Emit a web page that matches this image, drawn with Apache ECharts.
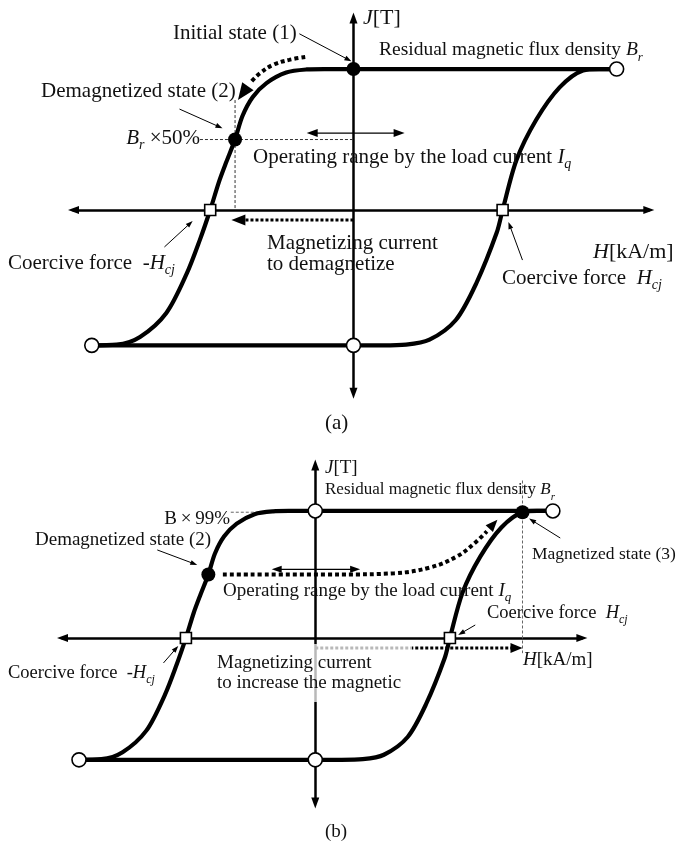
<!DOCTYPE html>
<html>
<head>
<meta charset="utf-8">
<script src="https://cdn.jsdelivr.net/npm/echarts@6/dist/echarts.min.js"></script>
<style>
  html, body { margin: 0; padding: 0; background: #fff; }
  #chart { width: 678px; height: 841px; }
</style>
</head>
<body>
<div id="chart"></div>
<script>
// J–H hysteresis loop of a permanent magnet, normalised: H in units of Hcj, J in units of Br.
const demagBranch = [[1.80, 1.00], [0.00, 1.00], [-0.20, 1.00], [-0.32, 0.997], [-0.46, 0.975],
  [-0.595, 0.90], [-0.69, 0.80], [-0.76, 0.665], [-0.81, 0.50], [-0.87, 0.34], [-0.92, 0.20],
  [-0.98, 0.00], [-1.05, -0.21], [-1.14, -0.45], [-1.28, -0.73], [-1.46, -0.90], [-1.62, -0.955], [-1.79, -0.96]];
const magBranch = [[-1.79, -0.96], [0.20, -0.96], [0.36, -0.955], [0.52, -0.92], [0.70, -0.78],
  [0.84, -0.52], [0.98, -0.16], [1.02, 0.00], [1.115, 0.355], [1.25, 0.64], [1.41, 0.87],
  [1.57, 0.99], [1.68, 1.00], [1.80, 1.00]];
const coercivePoints = [[-0.98, 0], [1.02, 0]];

// (a) demagnetisation from the initial state
const openPointsA = [[-1.79, -0.96], [1.80, 1.00], [0, -0.96]];
const solidPointsA = [[0, 1.00], [-0.81, 0.50]];
const guidesA = [[[-1.05, 0.50], [0, 0.50]], [[-0.81, 0.78], [-0.81, 0]]];
const sweepPathA = [[-0.33, 1.085], [-0.44, 1.065], [-0.55, 1.03], [-0.64, 0.97], [-0.70, 0.91]];
const sweepTipA = [-0.79, 0.78];
const currentArrowA = [[[0, -0.07], [-0.835, -0.07]]];
const loadRangeA = [[[-0.32, 0.546], [0.35, 0.546]]];
const pointersA = [
  [[-0.37, 1.25], [-0.014, 1.055]],
  [[-1.19, 0.716], [-0.896, 0.58]],
  [[-1.293, -0.262], [-1.10, -0.078]],
  [[1.156, -0.355], [1.06, -0.085]]
];

// (b) remagnetisation back to 99 % of Br
const openPointsB = [[-1.79, -0.96], [1.80, 1.00], [0, -0.96], [0, 1.00]];
const solidPointsB = [[-0.81, 0.50], [1.57, 0.99]];
const guidesB = [[[-0.64, 0.99], [1.57, 0.99]], [[1.57, 1.24], [1.57, -0.12]]];
const sweepPathB = [[-0.70, 0.50], [0.20, 0.50], [0.60, 0.51], [0.87, 0.555], [1.07, 0.64], [1.20, 0.74], [1.30, 0.84]];
const sweepTipB = [1.38, 0.93];
const currentArrowB = [[[0, -0.08], [1.57, -0.08]]];
const loadRangeB = [[[-0.33, 0.54], [0.34, 0.54]]];
const pointersB = [
  [[-1.197, 0.693], [-0.894, 0.575]],
  [[1.856, 0.787], [1.62, 0.94]],
  [[1.212, 0.102], [1.083, 0.024]],
  [[-1.15, -0.197], [-1.038, -0.063]]
];

const X_MIN = -1.915, X_MAX = 2.02, Y_MIN = -1.30, Y_MAX = 1.362;
const SERIF = "'Liberation Serif', 'Times New Roman', serif";
const INK = '#111';

function axisPair(i) {
  const line = {
    onZero: true,
    symbol: ['triangle', 'triangle'],
    symbolSize: [8, 11],
    lineStyle: { color: '#000', width: 2.5 }
  };
  const common = {
    type: 'value', gridIndex: i, axisLine: line,
    axisTick: { show: false }, axisLabel: { show: false }, splitLine: { show: false }
  };
  return [
    Object.assign({ min: X_MIN, max: X_MAX }, common),
    Object.assign({ min: Y_MIN, max: Y_MAX }, common)
  ];
}

function curve(i, data, style, extra) {
  return Object.assign({
    type: 'line', xAxisIndex: i, yAxisIndex: i, data: data,
    symbol: 'none', showSymbol: false, silent: true, animation: false,
    smooth: 0.3, z: 3,
    lineStyle: style
  }, extra || {});
}

function dots(i, data, kind) {
  const styles = {
    solid: { symbol: 'circle', size: 14, item: { color: '#000', opacity: 1 } },
    open: { symbol: 'circle', size: 14, item: { color: '#fff', borderColor: '#000', borderWidth: 1.6, opacity: 1 } },
    square: { symbol: 'rect', size: 11, item: { color: '#fff', borderColor: '#000', borderWidth: 1.6, opacity: 1 } }
  }[kind];
  return {
    type: 'scatter', xAxisIndex: i, yAxisIndex: i, data: data, silent: true,
    symbol: styles.symbol, symbolSize: styles.size, itemStyle: styles.item, z: 8,
    emphasis: { disabled: true }
  };
}

// straight segments, optionally with filled arrowheads drawn in pixel space
function arrows(i, segs, o) {
  return {
    type: 'custom', xAxisIndex: i, yAxisIndex: i, silent: true, clip: false, z: o.z || 6,
    data: segs.map(s => [s[0][0], s[0][1], s[1][0], s[1][1]]),
    renderItem: function (params, api) {
      const a = api.coord([api.value(0), api.value(1)]);
      const b = api.coord([api.value(2), api.value(3)]);
      const dx = b[0] - a[0], dy = b[1] - a[1];
      const d = Math.hypot(dx, dy) || 1, ux = dx / d, uy = dy / d;
      const head = function (tail, tip) {
        const vx = tip[0] - tail[0], vy = tip[1] - tail[1];
        const n = Math.hypot(vx, vy) || 1, px = vx / n, py = vy / n;
        const bx = tip[0] - px * o.len, by = tip[1] - py * o.len;
        return {
          type: 'polygon',
          shape: { points: [tip, [bx - py * o.wid / 2, by + px * o.wid / 2], [bx + py * o.wid / 2, by - px * o.wid / 2]] },
          style: { fill: o.color || '#000' }
        };
      };
      const kids = [];
      if (o.line !== false) {
        const s = o.start ? [a[0] + ux * o.len * 0.7, a[1] + uy * o.len * 0.7] : a;
        const e = o.end ? [b[0] - ux * o.len * 0.7, b[1] - uy * o.len * 0.7] : b;
        kids.push({
          type: 'line', shape: { x1: s[0], y1: s[1], x2: e[0], y2: e[1] },
          style: { stroke: o.color || '#000', lineWidth: o.width || 1, lineDash: o.dash || null, lineCap: 'butt' }
        });
      }
      if (o.end) kids.push(head(a, b));
      if (o.start) kids.push(head(b, a));
      return { type: 'group', children: kids };
    }
  };
}

function rich(size) {
  const L = size + 8, off = 0.42 * size;
  const base = { fontFamily: SERIF, fontSize: size, lineHeight: L, verticalAlign: 'middle', fill: INK };
  return {
    t: base,
    i: Object.assign({}, base, { fontStyle: 'italic' }),
    s: Object.assign({}, base, {
      fontSize: Math.round(size * 0.66), fontStyle: 'italic',
      lineHeight: L - 2 * off, verticalAlign: 'bottom'
    })
  };
}

function text(x, y, str, size, align) {
  return {
    type: 'text', x: x, y: y, z: 100, silent: true,
    style: {
      text: str, rich: rich(size), fill: INK, fontFamily: SERIF, fontSize: size,
      align: align || 'left', verticalAlign: 'middle'
    }
  };
}

const axA = axisPair(0), axB = axisPair(1);
const loopStyle = { color: '#000', width: 4.2, cap: 'round', join: 'round' };
const sweepStyle = { color: '#000', width: 4, type: [4, 3], cap: 'butt' };
const guideA = { color: '#333', width: 1, type: [3, 2] };
const guideB = { color: '#666', width: 1, type: [3, 2] };

const series = [
  // panel (a)
  curve(0, demagBranch, loopStyle),
  curve(0, magBranch, loopStyle),
  ...guidesA.map(g => curve(0, g, guideA, { smooth: false, z: 2 })),
  curve(0, sweepPathA, sweepStyle, { smooth: 0.4, z: 5 }),
  arrows(0, [[sweepPathA[sweepPathA.length - 1], sweepTipA]], { line: false, end: true, len: 17, wid: 14 }),
  arrows(0, currentArrowA, { width: 3, dash: [3, 2], end: true, len: 14, wid: 11 }),
  arrows(0, loadRangeA, { width: 1.3, start: true, end: true, len: 11, wid: 8 }),
  arrows(0, pointersA, { width: 1, end: true, len: 7, wid: 5 }),
  dots(0, coercivePoints, 'square'),
  dots(0, openPointsA, 'open'),
  dots(0, solidPointsA, 'solid'),
  // panel (b)
  curve(1, demagBranch, loopStyle),
  curve(1, magBranch, loopStyle),
  ...guidesB.map(g => curve(1, g, guideB, { smooth: false, z: 2 })),
  curve(1, sweepPathB, sweepStyle, { smooth: 0.4, z: 5 }),
  arrows(1, [[sweepPathB[sweepPathB.length - 1], sweepTipB]], { line: false, end: true, len: 12, wid: 10 }),
  arrows(1, currentArrowB, { width: 3, dash: [3, 2], end: true, len: 12, wid: 10 }),
  arrows(1, loadRangeB, { width: 1.3, start: true, end: true, len: 10, wid: 7 }),
  arrows(1, pointersB, { width: 1, end: true, len: 7, wid: 5 }),
  dots(1, coercivePoints, 'square'),
  dots(1, openPointsB, 'open'),
  dots(1, solidPointsB, 'solid')
];

const graphic = [
  // (a)
  text(363, 18, '{i|J}{t|[T]}', 22),
  text(173, 33, '{t|Initial state (1)}', 21),
  text(379, 50, '{t|Residual magnetic flux density }{i|B}{s|r}', 19.5),
  text(41, 91, '{t|Demagnetized state (2)}', 21),
  text(200, 138, '{i|B}{s|r}{t| ×50%}', 21, 'right'),
  text(253, 157, '{t|Operating range by the load current }{i|I}{s|q}', 21),
  text(267, 243, '{t|Magnetizing current}', 21),
  text(267, 264, '{t|to demagnetize}', 21),
  text(8, 263, '{t|Coercive force  -}{i|H}{s|cj}', 21),
  text(593, 252, '{i|H}{t|[kA/m]}', 22),
  text(502, 278, '{t|Coercive force  }{i|H}{s|cj}', 21),
  text(325, 423, '{t|(a)}', 21),
  // (b)
  {
    type: 'rect', z: 50, silent: true,
    shape: { x: 212, y: 644, width: 200, height: 58 },
    style: { fill: 'rgba(255,255,255,0.72)' }
  },
  text(325, 468, '{i|J}{t|[T]}', 19),
  text(325, 490, '{t|Residual magnetic flux density }{i|B}{s|r}', 17),
  text(230, 519, '{t|B\u2009×\u200999%}', 19, 'right'),
  text(35, 540, '{t|Demagnetized state (2)}', 19),
  text(532, 554, '{t|Magnetized state (3)}', 17.5),
  text(223, 591, '{t|Operating range by the load current }{i|I}{s|q}', 19),
  text(487, 613, '{t|Coercive force  }{i|H}{s|cj}', 18.5),
  text(523, 660, '{i|H}{t|[kA/m]}', 19),
  text(217, 663, '{t|Magnetizing current}', 19),
  text(217, 683, '{t|to increase the magnetic}', 19),
  text(8, 673, '{t|Coercive force  -}{i|H}{s|cj}', 18.5),
  text(325, 832, '{t|(b)}', 19)
];

const chart = echarts.init(document.getElementById('chart'), null, { renderer: 'canvas' });
chart.setOption({
  backgroundColor: '#fff',
  animation: false,
  grid: [
    { left: 73.5, top: 18, width: 575.3, height: 375.3, outerBoundsMode: 'none', containLabel: false },
    { left: 62.5, top: 465, width: 519.4, height: 338, outerBoundsMode: 'none', containLabel: false }
  ],
  xAxis: [axA[0], axB[0]],
  yAxis: [axA[1], axB[1]],
  series: series,
  graphic: graphic
});
</script>
</body>
</html>
